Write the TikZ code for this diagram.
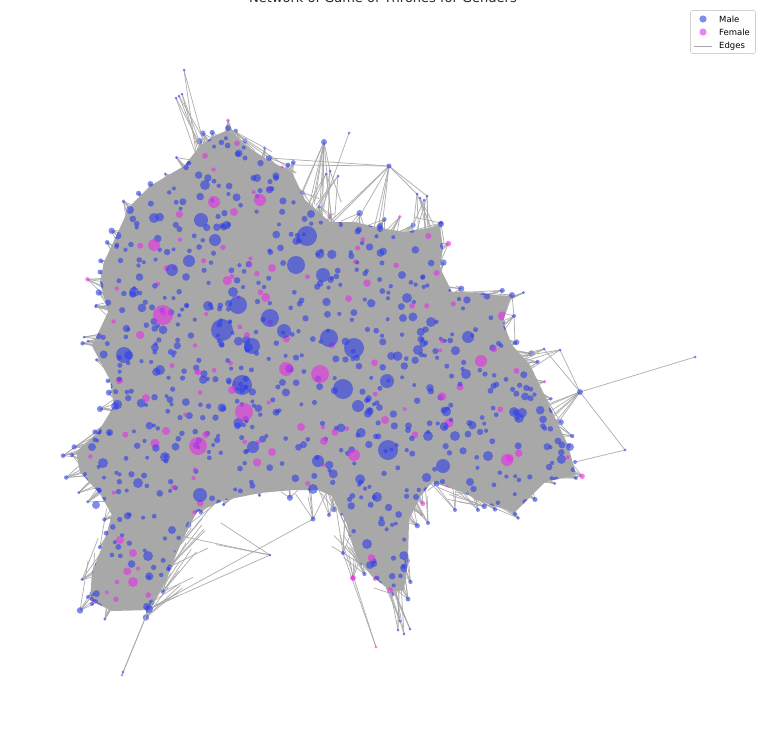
\documentclass[tikz,border=0pt]{standalone}
\usepackage{fontspec}
\setmainfont{DejaVu Sans}
\begin{document}
\begin{tikzpicture}[x=1pt,y=-1pt]
\definecolor{edgec}{RGB}{168,168,168}
\definecolor{malec}{RGB}{47,63,230}
\definecolor{femc}{RGB}{230,47,230}
\tikzset{
  edge/.style={draw=edgec, line width=0.75pt, opacity=0.9},
  male/.style={fill=malec, fill opacity=0.6},
  female/.style={fill=femc, fill opacity=0.6},
  legendbox/.style={draw=black!18, fill=white, rounded corners=2pt, line width=0.6pt},
  legtext/.style={anchor=west, font=\fontsize{8.5}{10}\selectfont, inner sep=0pt}
}
\useasboundingbox (0,0) rectangle (766,731);
\clip (0,0) rectangle (766,731);
\node[anchor=base, font=\fontsize{13}{15}\selectfont, text=black!85, inner sep=0pt] (title) at (383,2.5) {Network of Game of Thrones for Genders};

\def\blobpath{(228,130) -- (245,145) -- (268,160) -- (292,172) -- (305,200) -- (330,222) -- (355,222) -- (380,228) -- (405,232) -- (440,226) -- (443,248) -- (440,268) -- (452,292) -- (482,293) -- (510,297) -- (503,322) -- (512,345) -- (530,365) -- (546,398) -- (556,420) -- (568,445) -- (576,475) -- (545,482) -- (515,512) -- (490,505) -- (462,492) -- (432,482) -- (420,497) -- (409,520) -- (408,560) -- (404,590) -- (392,592) -- (372,576) -- (356,556) -- (346,522) -- (332,496) -- (318,490) -- (293,490) -- (260,493) -- (225,500) -- (197,512) -- (182,540) -- (166,580) -- (150,610) -- (112,611) -- (90,600) -- (92,572) -- (104,542) -- (112,515) -- (100,494) -- (80,472) -- (76,452) -- (98,432) -- (114,406) -- (110,380) -- (92,346) -- (108,312) -- (100,282) -- (104,262) -- (118,232) -- (130,206) -- (150,186) -- (184,166) -- (200,146) -- (214,136) -- cycle}
\def\innerpath{(228,150) -- (290,190) -- (330,235) -- (430,240) -- (440,300) -- (495,310) -- (535,395) -- (560,465) -- (510,495) -- (420,475) -- (395,570) -- (360,520) -- (320,480) -- (200,495) -- (150,600) -- (102,595) -- (115,500) -- (92,455) -- (122,400) -- (105,345) -- (118,280) -- (140,215) -- (200,165) -- cycle}

% peripheral coordinates
\coordinate (p1) at (184,70);
\coordinate (p2) at (176,98);
\coordinate (p3) at (179,96);
\coordinate (p4) at (182,94);
\coordinate (p5) at (228,128);
\coordinate (p6) at (269,158);
\coordinate (p7) at (288,165);
\coordinate (p8) at (324,142);
\coordinate (p9) at (349,133);
\coordinate (p10) at (389,166);
\coordinate (p11a) at (417,194);
\coordinate (p11b) at (420,198);
\coordinate (p11c) at (424,200);
\coordinate (p11d) at (427,196);
\coordinate (p12a) at (326,174);
\coordinate (p12b) at (330,171);
\coordinate (p12c) at (338,176);
\coordinate (p13) at (441,224);
\coordinate (p14) at (380,226);
\coordinate (p15) at (512,295);
\coordinate (p16) at (514,316);
\coordinate (p17) at (515,343);
\coordinate (p18a) at (544,349);
\coordinate (p18b) at (560,350);
\coordinate (p19) at (580,392);
\coordinate (p20) at (695,357);
\coordinate (p21) at (625,450);
\coordinate (p22) at (570,447);
\coordinate (p23) at (576,478);
\coordinate (p23b) at (575,462);
\coordinate (p24) at (515,514);
\coordinate (p25) at (478,510);
\coordinate (p26) at (149,609);
\coordinate (p27a) at (122,675);
\coordinate (p27b) at (123,672);
\coordinate (p28) at (270,555);
\coordinate (p29) at (376,647);
\coordinate (p30a) at (398,630);
\coordinate (p30b) at (400,621);
\coordinate (p30c) at (410,629);
\coordinate (p30d) at (404,634);
\coordinate (p31) at (313,519);
\coordinate (p31b) at (329,515);
\coordinate (p32) at (428,523);
\coordinate (p34) at (72,455);
\coordinate (p34b) at (85,474);
\coordinate (p35a) at (84,337);
\coordinate (p35b) at (88,341);
\coordinate (p36a) at (96,305);
\coordinate (p36b) at (100,272);
\coordinate (p37) at (88,597);
\coordinate (p38) at (92,604);
\coordinate (p39) at (455,510);
\coordinate (p40) at (353,578);
\coordinate (p41) at (343,553);

\newcommand\fan[6]{%
  \foreach \k in {1,...,#6}{%
    \pgfmathsetmacro\fx{#2+rnd*(#3-#2)}%
    \pgfmathsetmacro\fy{#4+rnd*(#5-#4)}%
    \draw[edge] (#1) -- (\fx,\fy);
  }}

\pgfmathsetseed{11}
% dense mass
\fill[edgec] \blobpath;

% ragged rim: edges from boundary nodes into the mass
\foreach \vx/\vy in {228/130, 245/145, 268/160, 292/172, 305/200, 330/222, 355/222, 380/228, 405/232, 440/226, 443/248, 440/268, 452/292, 482/293, 510/297, 503/322, 512/345, 530/365, 546/398, 556/420, 568/445, 576/475, 545/482, 515/512, 490/505, 462/492, 432/482, 420/497, 409/520, 408/560, 404/590, 392/592, 372/576, 356/556, 346/522, 332/496, 293/490, 260/493, 225/500, 197/512, 182/540, 166/580, 150/610, 112/611, 90/600, 92/572, 104/542, 112/515, 100/494, 80/472, 76/452, 98/432, 114/406, 110/380, 92/346, 108/312, 100/282, 104/262, 118/232, 130/206, 150/186, 184/166, 200/146, 214/136, 236/138, 282/168, 318/212, 395/230, 448/290, 496/295, 520/355, 538/380, 562/432, 530/495, 475/498, 414/508, 406/575, 362/565, 340/508, 205/505, 175/560, 158/595, 97/588, 108/528, 90/485, 86/442, 112/393, 100/362, 102/296, 110/246, 140/196, 166/176, 205/141}{%
  \pgfmathsetmacro\dx{\vx-300}%
  \pgfmathsetmacro\dy{\vy-370}%
  \pgfmathsetmacro\dl{veclen(\dx,\dy)}%
  \pgfmathsetmacro\off{2+11*rnd}%
  \pgfmathsetmacro\ox{\vx+\off*\dx/\dl+6*(rnd-0.5)}%
  \pgfmathsetmacro\oy{\vy+\off*\dy/\dl+6*(rnd-0.5)}%
  \foreach \k in {1,...,6}{%
    \pgfmathsetmacro\tx{\vx-(0.06+0.12*rnd)*\dx+36*(rnd-0.5)}%
    \pgfmathsetmacro\ty{\vy-(0.06+0.12*rnd)*\dy+36*(rnd-0.5)}%
    \draw[edge] (\ox,\oy) -- (\tx,\ty);
  }
  \pgfmathsetmacro\rr{1.5+1.8*rnd}%
  \pgfmathsetmacro\pk{rnd}%
  \ifdim\pk pt<0.15pt
    \fill[female] (\ox,\oy) circle (\rr);
  \else
    \fill[male] (\ox,\oy) circle (\rr);
  \fi
}

% fans of edges from peripheral nodes
\fan{p1}{195}{215}{150}{175}{2}
\fan{p2}{195}{215}{150}{180}{2}
\fan{p3}{195}{215}{150}{180}{2}
\fan{p4}{195}{215}{150}{180}{2}
\fan{p5}{190}{300}{150}{220}{14}
\fan{p6}{230}{320}{170}{230}{9}
\fan{p7}{255}{320}{175}{230}{7}
\fan{p8}{285}{345}{190}{250}{9}
\fan{p9}{300}{320}{225}{240}{1}
\fan{p10}{320}{390}{210}{260}{6}
\fan{p11a}{405}{440}{225}{260}{3}
\fan{p11b}{405}{440}{225}{260}{3}
\fan{p11c}{405}{440}{225}{260}{3}
\fan{p11d}{405}{440}{225}{260}{3}
\fan{p12a}{305}{345}{200}{240}{3}
\fan{p12b}{305}{345}{200}{240}{3}
\fan{p12c}{305}{345}{200}{240}{3}
\fan{p13}{380}{440}{235}{300}{10}
\fan{p14}{350}{400}{230}{280}{5}
\fan{p15}{440}{500}{290}{340}{12}
\fan{p16}{455}{505}{300}{350}{5}
\fan{p17}{470}{510}{330}{370}{5}
\fan{p18a}{480}{530}{360}{390}{3}
\fan{p18b}{490}{535}{360}{395}{3}
\fan{p19}{515}{555}{395}{450}{7}
\fan{p22}{500}{560}{410}{470}{8}
\fan{p23}{500}{565}{440}{480}{6}
\fan{p24}{465}{520}{460}{500}{6}
\fan{p25}{440}{490}{470}{500}{5}
\fan{p39}{420}{470}{465}{495}{4}
\fan{p32}{395}{430}{470}{500}{5}
\fan{p26}{100}{180}{540}{600}{12}
\fan{p28}{180}{230}{515}{550}{3}
\fan{p30a}{375}{400}{560}{590}{3}
\fan{p30b}{375}{400}{560}{590}{3}
\fan{p30c}{375}{400}{560}{590}{3}
\fan{p30d}{375}{400}{560}{590}{3}
\fan{p31}{280}{340}{480}{500}{5}
\fan{p31b}{300}{345}{480}{500}{4}
\fan{p34}{80}{115}{440}{475}{5}
\fan{p34b}{85}{115}{450}{485}{4}
\fan{p35a}{100}{130}{325}{355}{4}
\fan{p35b}{100}{130}{325}{355}{4}
\fan{p36a}{105}{135}{290}{320}{4}
\fan{p36b}{105}{135}{260}{290}{4}
\fan{p37}{95}{140}{560}{600}{4}
\fan{p38}{100}{150}{570}{608}{4}
\fan{p40}{345}{380}{520}{560}{4}
\fan{p41}{330}{360}{500}{540}{4}

\draw[edge] (p10) -- (p6);
\draw[edge] (p10) -- (p11a);
\draw[edge] (p10) -- (p11d);
\draw[edge] (p19) -- (p20);
\draw[edge] (p19) -- (p21);
\draw[edge] (p19) -- (p18a);
\draw[edge] (p19) -- (p18b);
\draw[edge] (p21) -- (p23b);
\draw[edge] (p26) -- (p27a);
\draw[edge] (p26) -- (p27b);
\draw[edge] (p26) -- (p31);
\draw[edge] (p26) -- (p28);
\draw[edge] (p29) -- (p41);
\draw[edge] (p29) -- (340,535);
\draw[edge] (p8) -- (p12b);
\draw[edge] (p15) -- (p16);
\draw[edge] (p16) -- (p17);
\draw[edge] (p5) -- (p6);
\draw[edge] (p6) -- (p7);
\draw[edge] (p7) -- (p10);

% re-cover the interior so that the mass is solid
\fill[edgec] \innerpath;

% random small nodes inside the mass
\begin{scope}
\clip \blobpath;
\foreach \i in {1,...,1250}{%
  \pgfmathsetmacro\rx{75+rnd*505}%
  \pgfmathsetmacro\ry{128+rnd*485}%
  \pgfmathsetmacro\rr{2.0+3.2*rnd*rnd}%
  \pgfmathsetmacro\pk{rnd}%
  \ifdim\pk pt<0.14pt
    \fill[female] (\rx,\ry) circle (\rr);
  \else
    \fill[male] (\rx,\ry) circle (\rr);
  \fi
}
\end{scope}

% peripheral node dots
\foreach \c/\r in {p1/1.5,p2/1.5,p3/1.5,p4/1.5,p5/3,p6/3,p7/2.5,p8/3,p9/1.5,p10/2.5,p11a/1.5,p11b/1.5,p11c/1.5,p11d/1.5,p12a/1.5,p12b/1.5,p12c/1.5,p13/3,p14/3,p15/3,p16/2,p17/2,p18a/1.5,p18b/1.5,p19/3,p20/1.5,p21/1.5,p22/4,p23/2,p23b/2,p24/2,p25/2,p26/4,p27b/1.5,p28/1.5,p30a/1.5,p30b/1.5,p30c/1.5,p30d/1.5,p31/2.5,p31b/2,p32/2,p34/2,p34b/2,p35a/1.5,p35b/1.5,p36a/1.5,p36b/2.5,p37/2,p38/2,p39/2,p41/2}
  {\fill[male] (\c) circle (\r);}
\foreach \c/\r in {p27a/1.5,p29/1.5,p40/2}
  {\fill[female] (\c) circle (\r);}

% prominent nodes
\foreach \x/\y/\r in {222/330/11, 307/236/10, 238/305/9, 296/265/9, 270/318/9, 329/338/9, 354/348/10, 343/389/10, 242/385/10, 388/450/10, 124/355/8, 252/346/8, 284/331/7, 201/220/7, 323/275/7, 189/261/6, 172/270/6, 468/337/6, 443/466/7, 387/381/7, 200/495/7, 318/461/6, 358/406/6, 253/447/6, 215/240/6, 233/292/5, 154/218/5, 205/185/5, 311/214/4, 380/229/3, 103/463/5, 115/406/4, 138/483/5, 148/556/5, 134/292/5, 208/306/5, 160/370/5, 313/489/5, 377/497/5, 407/298/5, 418/350/5, 431/322/5, 455/436/5, 428/436/5, 488/456/5, 519/418/5, 514/412/5, 466/374/5, 403/318/4, 402/275/4, 367/544/5, 370/565/4, 130/210/4, 257/178/4, 276/178/3, 165/457/5, 92/447/4, 96/505/4, 172/530/4}
  {\fill[male] (\x,\y) circle (\r);}
\foreach \x/\y/\r in {163/315/10, 320/374/9, 244/412/9, 198/446/9, 286/369/7, 354/455/6, 481/361/6, 507/460/6, 154/245/6, 214/202/6, 260/200/6, 234/212/4, 272/268/4, 146/398/4, 166/431/4, 385/420/4, 324/441/4, 301/427/4, 120/540/4, 133/553/4, 133/582/5, 232/390/4, 390/590/3, 353/578/3, 272/452/4, 198/372/3, 247/335/3}
  {\fill[female] (\x,\y) circle (\r);}

% legend
\draw[legendbox] (690.5,10.5) rectangle (755.5,53.5);
\fill[male] (703,19) circle (3.6);
\fill[female] (703,32) circle (3.6);
\draw[edgec, line width=0.8pt] (694,46) -- (712,46);
\node[legtext] (lm) at (719,19) {Male};
\node[legtext] (lf) at (719,32) {Female};
\node[legtext] (le) at (719,46) {Edges};
\end{tikzpicture}
\end{document}
